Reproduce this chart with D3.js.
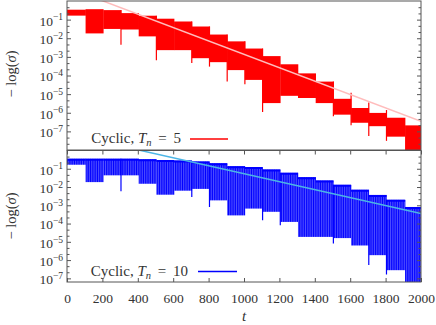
<!DOCTYPE html>
<html>
<head>
<meta charset="utf-8">
<script src="https://cdn.jsdelivr.net/npm/d3@7"></script>
<style>
  body { margin: 0; background: #fff; }
  text { font-family: "Liberation Serif", "DejaVu Serif", serif; fill: #333; }
</style>
</head>
<body>
<div id="chart"></div>
<script>
// step boundaries (t) shared by both runs
const stepStart = [0, 105, 205, 305, 405, 505, 605, 705, 805, 905, 1005, 1105, 1205, 1305, 1405, 1505, 1605, 1705, 1805, 1910]
const tMax = 2000

// Cyclic, Tn = 5 : upper / lower envelope of each step
const redHi = [0.341, 0.363, 0.324, 0.224, 0.162, 0.112, 0.0794, 0.0427, 0.0158, 6.8e-3, 2.8e-3, 1.1e-3, 4.0e-4, 1.3e-4, 4.7e-5, 5.6e-6, 1.8e-6, 9.8e-7, 5.4e-7, 2.1e-7]
const redLo = [0.164, 0.0182, 0.0316, 0.0295, 0.0126, 2.3e-3, 2.3e-3, 8.5e-4, 5.2e-4, 1.95e-4, 5.8e-5, 3.3e-6, 8.1e-6, 6.2e-6, 3.3e-6, 7.9e-7, 2.9e-7, 1.9e-7, 5.2e-8, 1e-9]
const redSpikeT = [305, 505, 705, 805, 905, 1005, 1105, 1505, 1605, 1705, 1805]
const redSpikeLo = [4.5e-3, 6.6e-4, 4.7e-4, 3.0e-4, 4.7e-5, 3.4e-5, 1.1e-6, 6.5e-7, 2.1e-7, 5.6e-8, 3.1e-8]
const redSpikeHi = [0.324, 0.162, 0.0794, 0.0427, 0.0158, 6.8e-3, 2.8e-3, 4.7e-5, 1.2e-5, 3.5e-6, 1.4e-6]
const redFitT = [0, 2000]
const redFitV = [5.4, 3.5e-7]

// Cyclic, Tn = 10
const blueHi = [0.355, 0.355, 0.355, 0.355, 0.33, 0.302, 0.282, 0.251, 0.2, 0.138, 0.123, 0.0912, 0.0603, 0.0347, 0.0229, 0.0132, 7.1e-3, 3.7e-3, 2.0e-3, 8.1e-4]
const blueLo = [0.166, 0.0186, 0.0437, 0.0437, 0.0151, 3.8e-3, 6.3e-3, 7.9e-3, 1.86e-3, 2.8e-4, 6.6e-4, 4.4e-4, 1.23e-4, 1.86e-5, 1.86e-5, 1.6e-5, 6.3e-6, 1.86e-6, 2.8e-7, 1e-9]
const blueSpikeT = [305, 705, 805, 1105, 1205, 1505, 1705, 1805]
const blueSpikeLo = [5.8e-3, 2.8e-3, 8.1e-4, 1.5e-4, 8.1e-5, 8.1e-6, 5.4e-7, 1.6e-7]
const blueFitT = [0, 2000]
const blueFitV = [8.1, 3.55e-4]

const xTicks = [0, 200, 400, 600, 800, 1000, 1200, 1400, 1600, 1800, 2000]
const yTickExp = [-1, -2, -3, -4, -5, -6, -7]

const width = 436
const height = 325
const svg = d3.select("#chart").append("svg")
  .attr("width", width)
  .attr("height", height)

const defs = svg.append("defs")

const x = d3.scaleLinear().domain([0, tMax]).range([67, 421])

const panels = [
  {name: "top", y: d3.scaleLog().domain([1e-8, 1]).range([150, 1]),
   hi: redHi, lo: redLo, spikeT: redSpikeT, spikeLo: redSpikeLo, spikeHi: redSpikeHi,
   fitT: redFitT, fitV: redFitV, color: "#ff0000", fitColor: "#ffbcbc",
   legend: "5", legendEnd: 181, legendY: 143, lineX: [190, 228], lineY: 139, labelY: 74},
  {name: "bottom", y: d3.scaleLog().domain([Math.pow(10, -7.2), 1]).range([282, 150.5]),
   hi: blueHi, lo: blueLo, spikeT: blueSpikeT, spikeLo: blueSpikeLo, spikeHi: null,
   fitT: blueFitT, fitV: blueFitV, color: "#0000ff", fitColor: "#4cb6e6",
   legend: "10", legendEnd: 188, legendY: 276, lineX: [198, 237], lineY: 271.5, labelY: 216}
]

// stripes for the Tn = 10 oscillation (one stripe per period)
const period = x(10) - x(0)
const pat = defs.append("pattern")
  .attr("id", "stripes")
  .attr("patternUnits", "userSpaceOnUse")
  .attr("x", x(0))
  .attr("width", period)
  .attr("height", 10)
pat.append("rect").attr("width", period).attr("height", 10).attr("fill", "#5a5aff")
pat.append("rect").attr("width", 1).attr("height", 10).attr("fill", "#0000ff")

const steps = stepStart.map((s, i) => ({i, t0: s, t1: i < stepStart.length - 1 ? stepStart[i + 1] : tMax}))

panels.forEach(p => {
  const y = p.y
  const [yb, yt] = y.range()

  defs.append("clipPath").attr("id", "clip-" + p.name)
    .append("rect")
    .attr("x", x.range()[0]).attr("y", yt)
    .attr("width", x.range()[1] - x.range()[0]).attr("height", yb - yt)

  const g = svg.append("g").attr("clip-path", `url(#clip-${p.name})`)

  g.selectAll("rect.band").data(steps).enter().append("rect")
    .attr("class", "band")
    .attr("x", d => x(d.t0))
    .attr("width", d => x(d.t1) - x(d.t0) + 0.3)
    .attr("y", d => y(p.hi[d.i]))
    .attr("height", d => y(p.lo[d.i]) - y(p.hi[d.i]))
    .attr("fill", p.name === "top" ? p.color : "url(#stripes)")

  if (p.name === "bottom") {
    g.selectAll("line.top").data(steps).enter().append("line")
      .attr("x1", d => x(d.t0)).attr("x2", d => x(d.t1))
      .attr("y1", d => y(p.hi[d.i]) + 1).attr("y2", d => y(p.hi[d.i]) + 1)
      .attr("stroke", p.color).attr("stroke-width", 2)
  }

  g.selectAll("line.spike").data(p.spikeT).enter().append("line")
    .attr("x1", d => x(d)).attr("x2", d => x(d))
    .attr("y1", (d, i) => y(p.spikeLo[i]))
    .attr("y2", (d, i) => p.spikeHi ? y(p.spikeHi[i]) : y(p.hi[stepStart.indexOf(d)]))
    .attr("stroke", p.color).attr("stroke-width", 1.2)

  g.append("path")
    .datum(p.fitT.map((t, i) => [t, p.fitV[i]]))
    .attr("d", d3.line().x(d => x(d[0])).y(d => y(d[1])))
    .attr("fill", "none")
    .attr("stroke", p.fitColor)
    .attr("stroke-width", 1.5)

  // frame and ticks
  const majors = yTickExp.map(e => Math.pow(10, e))
  const lo = Math.log10(y.domain()[0])
  const minors = d3.range(Math.ceil(lo * 3), 1).filter(k => k % 3 !== 0).map(k => Math.pow(10, k / 3))

  const left = svg.append("g").attr("transform", `translate(${x.range()[0]},0)`)
  const leftMajor = left.append("g")
    .call(d3.axisLeft(y).tickValues(majors).tickSize(-4).tickSizeOuter(0).tickPadding(4).tickFormat(""))
  left.append("g").call(d3.axisLeft(y).tickValues(minors).tickSize(-2.5).tickSizeOuter(0).tickFormat(""))
  leftMajor.selectAll(".tick text")
    .attr("font-size", 13.5)
    .attr("fill", "#333")
    .attr("dy", "0.4em")
    .each(function (d) {
      const t = d3.select(this)
      t.text("10")
      t.append("tspan").attr("dy", "-0.55em").attr("font-size", 9.5).text("\u2212" + Math.round(-Math.log10(d)))
    })

  const right = svg.append("g").attr("transform", `translate(${x.range()[1]},0)`)
  right.append("g").call(d3.axisRight(y).tickValues(majors).tickSize(-4).tickSizeOuter(0).tickFormat(""))
  right.append("g").call(d3.axisRight(y).tickValues(minors).tickSize(-2.5).tickSizeOuter(0).tickFormat(""))

  svg.append("rect")
    .attr("x", x.range()[0]).attr("y", yt)
    .attr("width", x.range()[1] - x.range()[0]).attr("height", yb - yt)
    .attr("fill", "none").attr("stroke", "#555").attr("stroke-width", 1)

  // y label
  const lab = svg.append("text")
    .attr("transform", `translate(16,${p.labelY}) rotate(-90)`)
    .attr("text-anchor", "middle")
    .attr("font-size", 14.5)
  lab.append("tspan").text("\u2212 log(")
  lab.append("tspan").attr("font-style", "italic").text("\u03c3")
  lab.append("tspan").text(")")

  // legend
  const leg = svg.append("text")
    .attr("x", p.legendEnd).attr("y", p.legendY)
    .attr("text-anchor", "end")
    .attr("font-size", 15)
  leg.append("tspan").text("Cyclic, ")
  leg.append("tspan").attr("font-style", "italic").text("T")
  leg.append("tspan").attr("font-style", "italic").attr("font-size", 10.5).attr("dy", 3).text("n")
  leg.append("tspan").attr("dy", -3).text("\u2009 = \u2009" + p.legend)
  svg.append("line")
    .attr("x1", p.lineX[0]).attr("x2", p.lineX[1])
    .attr("y1", p.lineY).attr("y2", p.lineY)
    .attr("stroke", p.color).attr("stroke-width", 1.5)
})

svg.selectAll(".domain").remove()
svg.selectAll(".tick line").attr("stroke", "#555")

// x axes: ticks on both edges of the lower panel
const yb = panels[1].y
const bottomAxis = svg.append("g").attr("transform", `translate(0,${yb.range()[0]})`)
  .call(d3.axisBottom(x).tickValues(xTicks).tickSize(-4).tickSizeOuter(0).tickPadding(11).tickFormat(d3.format("d")))
bottomAxis.select(".domain").remove()
bottomAxis.selectAll(".tick line").attr("stroke", "#555")
bottomAxis.selectAll(".tick text").attr("font-size", 13.5).attr("fill", "#333")
  .style("font-family", "Liberation Serif, serif")

const topAxis = svg.append("g").attr("transform", `translate(0,${yb.range()[1]})`)
  .call(d3.axisTop(x).tickValues(xTicks).tickSize(-4).tickSizeOuter(0).tickFormat(""))
topAxis.select(".domain").remove()
topAxis.selectAll(".tick line").attr("stroke", "#555")

svg.append("text")
  .attr("x", 244).attr("y", 321)
  .attr("text-anchor", "middle")
  .attr("font-size", 15)
  .attr("font-style", "italic")
  .text("t")
</script>
</body>
</html>
